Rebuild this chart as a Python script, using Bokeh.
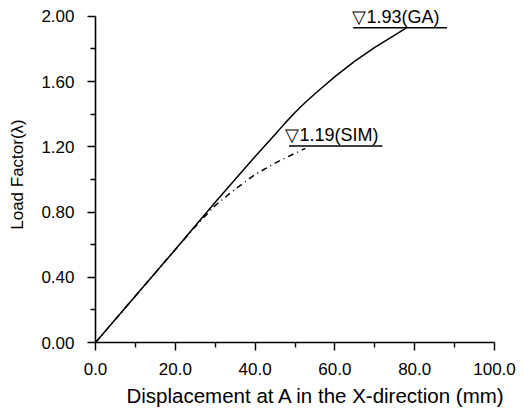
from bokeh.plotting import figure
from bokeh.models import FixedTicker, Range1d, NumeralTickFormatter, Title
from bokeh.embed import file_html
from bokeh.resources import INLINE
from bokeh.core.properties import value

# ---- data ----
ga_x = [0, 10, 20, 30, 40, 45, 47.5, 50, 52.5, 55, 60, 65, 70, 75, 78]
ga_y = [0, 0.285, 0.57, 0.86, 1.14, 1.275, 1.345, 1.41, 1.47, 1.525, 1.63, 1.725, 1.81, 1.885, 1.93]
sim_x = [0, 10, 20, 25, 30, 35, 40, 45, 50, 52.6]
sim_y = [0, 0.285, 0.57, 0.71, 0.84, 0.94, 1.03, 1.10, 1.16, 1.19]
ga_peak = 1.93
sim_peak = 1.19
ga_label = "\u25bd1.93(GA)"
sim_label = "\u25bd1.19(SIM)"
x_ticks = [0, 20, 40, 60, 80, 100]
x_minor = [10, 30, 50, 70, 90]
y_ticks = [0.0, 0.4, 0.8, 1.2, 1.6, 2.0]
y_minor = [0.2, 0.6, 1.0, 1.4, 1.8]
x_title = "Displacement at A in the X-direction (mm)"
y_title = "Load Factor(\u03bb)"

FONT = "Liberation Sans"

p = figure(width=520, height=410, output_backend="svg", toolbar_location=None,
           x_range=Range1d(0, 100), y_range=Range1d(0, 2.06))
p.min_border_left = 95
p.min_border_right = 26
p.min_border_top = 6
p.min_border_bottom = 40
p.outline_line_color = None
p.xgrid.visible = False
p.ygrid.visible = False
p.background_fill_color = "white"
p.border_fill_color = "white"

for ax in (p.xaxis[0], p.yaxis[0]):
    ax.axis_line_color = "black"
    ax.axis_line_width = 1.6
    ax.major_tick_line_color = "black"
    ax.major_tick_line_width = 1.4
    ax.minor_tick_line_color = "black"
    ax.minor_tick_line_width = 1.4
    ax.major_tick_out = 8
    ax.major_tick_in = 0
    ax.minor_tick_out = 5
    ax.minor_tick_in = 0
    ax.major_label_text_font = FONT
    ax.major_label_text_font_size = "17px"
    ax.major_label_text_color = "black"

p.yaxis[0].bounds = (0, 2.0)
p.xaxis[0].ticker = FixedTicker(ticks=x_ticks, minor_ticks=x_minor)
p.yaxis[0].ticker = FixedTicker(ticks=y_ticks, minor_ticks=y_minor)
p.xaxis[0].formatter = NumeralTickFormatter(format="0.0")
p.yaxis[0].formatter = NumeralTickFormatter(format="0.00")
p.xaxis[0].major_label_standoff = 12
p.yaxis[0].major_label_standoff = 13

p.yaxis[0].axis_label = y_title
p.yaxis[0].axis_label_text_font = FONT
p.yaxis[0].axis_label_text_font_size = "17px"
p.yaxis[0].axis_label_text_font_style = "normal"
p.yaxis[0].axis_label_text_color = "black"
p.yaxis[0].axis_label_standoff = 11

p.add_layout(Title(text=x_title, align="left", offset=31, standoff=8,
                   text_font=FONT, text_font_size="20.5px", text_font_style="normal",
                   text_color="black"), "below")

# curves
p.line(ga_x, ga_y, line_color="black", line_width=1.5)
p.line(sim_x, sim_y, line_color="black", line_width=1.5, line_dash="6 4 1 4")

# peak annotations: underline + text
p.segment(x0=[64.6], y0=[ga_peak], x1=[88.1], y1=[ga_peak], line_color="black", line_width=1.6)
p.segment(x0=[48.5], y0=[sim_peak + 0.015], x1=[71.9], y1=[sim_peak + 0.015], line_color="black", line_width=1.6)
p.text(x=[64.4], y=[ga_peak + 0.065], text=[ga_label], text_font=value(FONT),
       text_font_size="18px", text_baseline="alphabetic", text_align="left", text_color="black")
p.text(x=[47.6], y=[sim_peak + 0.08], text=[sim_label], text_font=value(FONT),
       text_font_size="18px", text_baseline="alphabetic", text_align="left", text_color="black")

open("out.html", "w").write(file_html(p, INLINE))
